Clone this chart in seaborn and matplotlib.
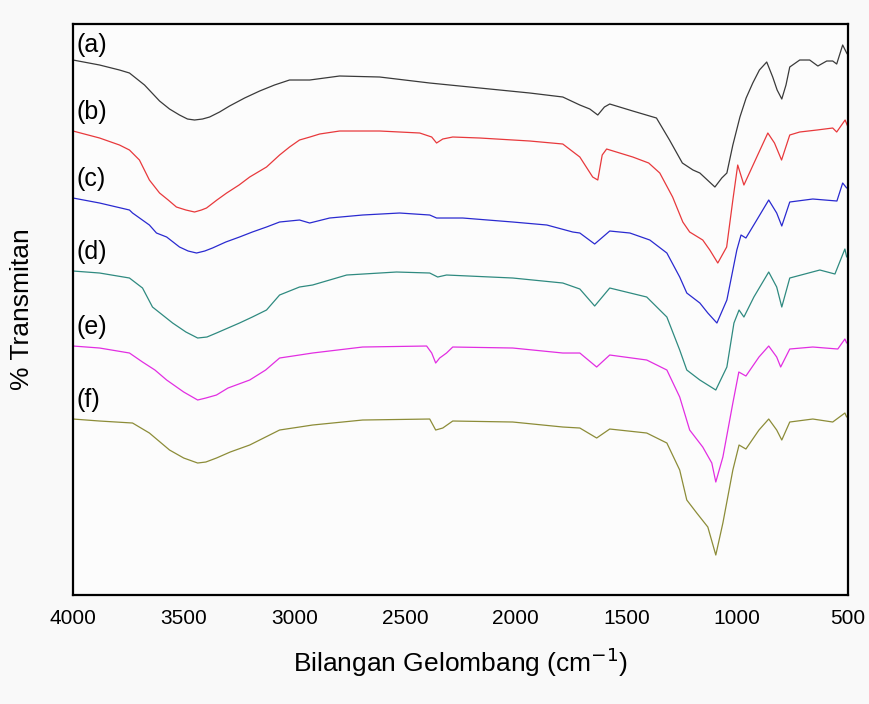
import matplotlib
matplotlib.use('Agg')
import matplotlib.pyplot as plt
import seaborn as sns
import pandas as pd
import numpy as np

# nilai (satuan transmitan relatif, sudah bergeser per sampel)
wn_a = [4000, 3880, 3790, 3745, 3677, 3609, 3564, 3519, 3483, 3451, 3415, 3383, 3338, 3293, 3225,
        3157, 3090, 3022, 2931, 2796, 2615, 2389, 2163, 1937, 1788, 1711, 1666, 1630, 1600, 1576,
        1472, 1365, 1306, 1248, 1200, 1169, 1135, 1101, 1070, 1047, 1020, 988, 960, 930, 900,
        867, 840, 820, 799, 780, 763, 718, 673, 636, 596, 569, 551, 524, 506, 500]
t_a = [535, 530, 525, 522, 510, 494, 486, 480, 476, 475, 476, 478, 483, 489, 497,
       504, 510, 515, 515, 519, 518, 512, 507, 502, 498, 490, 486, 480, 488, 491,
       484, 477, 455, 432, 425, 422, 415, 408, 417, 422, 450, 478, 497, 512, 525,
       533, 518, 505, 496, 510, 528, 535, 535, 529, 534, 534, 531, 550, 542, 540]

wn_b = [4000, 3880, 3790, 3745, 3700, 3655, 3609, 3570, 3533, 3490, 3451, 3420, 3397, 3350, 3306,
        3250, 3202, 3126, 3067, 3022, 2977, 2930, 2886, 2796, 2615, 2434, 2380, 2358, 2330, 2285,
        2163, 1937, 1788, 1711, 1653, 1630, 1610, 1590, 1472, 1400, 1350, 1292, 1246, 1215, 1156,
        1124, 1088, 1048, 1020, 998, 970, 912, 862, 832, 800, 763, 718, 640, 569, 551,
        513, 500]
t_b = [464, 457, 450, 445, 435, 415, 402, 395, 388, 385, 383, 385, 387, 395, 402,
       410, 418, 428, 440, 448, 455, 458, 461, 464, 464, 462, 458, 452, 456, 458,
       457, 454, 451, 438, 418, 415, 440, 446, 438, 432, 422, 398, 373, 363, 355,
       345, 332, 348, 395, 430, 410, 438, 462, 452, 435, 460, 463, 465, 467, 463,
       475, 468]

wn_c = [4000, 3880, 3745, 3731, 3655, 3623, 3577, 3519, 3480, 3442, 3405, 3370, 3310, 3248, 3190,
        3126, 3067, 2977, 2931, 2841, 2692, 2525, 2389, 2358, 2240, 2014, 1860, 1743, 1711, 1644,
        1576, 1485, 1395, 1318, 1260, 1228, 1169, 1133, 1092, 1047, 1002, 983, 961, 912, 858,
        822, 799, 763, 659, 550, 524, 506]
t_c = [397, 392, 385, 382, 370, 362, 358, 348, 344, 342, 344, 347, 353, 358, 363,
       368, 373, 375, 372, 377, 380, 382, 380, 377, 377, 373, 370, 363, 362, 351,
       364, 362, 355, 342, 318, 302, 292, 282, 272, 295, 345, 360, 357, 375, 395,
       382, 369, 393, 396, 394, 412, 407]

wn_d = [4000, 3880, 3745, 3686, 3641, 3550, 3490, 3437, 3395, 3352, 3300, 3248, 3190, 3126, 3067,
        2977, 2918, 2764, 2539, 2389, 2353, 2313, 2014, 1788, 1711, 1644, 1576, 1409, 1318, 1260,
        1228, 1169, 1097, 1047, 1015, 992, 970, 925, 858, 822, 799, 763, 627, 559, 514,
        506]
t_d = [324, 322, 317, 307, 288, 272, 263, 257, 258, 262, 267, 272, 278, 285, 300,
       308, 310, 320, 323, 322, 318, 320, 317, 312, 306, 289, 307, 298, 278, 245,
       225, 215, 205, 228, 272, 285, 278, 298, 323, 308, 288, 317, 325, 321, 346,
       338]

wn_e = [4000, 3880, 3745, 3686, 3630, 3577, 3500, 3437, 3400, 3352, 3300, 3202, 3130, 3067, 2977,
        2918, 2692, 2403, 2380, 2362, 2344, 2313, 2285, 2014, 1788, 1711, 1635, 1576, 1409, 1318,
        1260, 1215, 1156, 1115, 1097, 1065, 1020, 993, 961, 902, 858, 822, 804, 763, 659,
        546, 514, 506]
t_e = [249, 247, 242, 233, 225, 215, 203, 195, 197, 200, 207, 215, 225, 237, 240,
       242, 248, 249, 242, 232, 237, 242, 248, 247, 242, 242, 228, 240, 235, 225,
       198, 165, 148, 132, 113, 138, 192, 223, 219, 238, 249, 238, 228, 246, 248,
       246, 256, 252]

wn_f = [4000, 3880, 3731, 3655, 3564, 3500, 3437, 3400, 3352, 3290, 3202, 3130, 3067, 2977, 2918,
        2692, 2389, 2362, 2330, 2285, 2014, 1788, 1711, 1635, 1576, 1409, 1318, 1260, 1228, 1183,
        1133, 1097, 1065, 1020, 992, 961, 902, 858, 822, 799, 763, 659, 569, 514, 506]
t_f = [176, 174, 172, 162, 145, 137, 132, 133, 137, 143, 150, 158, 165, 168, 170,
       175, 176, 165, 167, 174, 173, 168, 167, 157, 166, 162, 152, 125, 95, 82,
       68, 40, 72, 125, 150, 146, 165, 176, 165, 155, 173, 176, 173, 182, 178]

labels = ['(a)', '(b)', '(c)', '(d)', '(e)', '(f)']
colors = ['#3a3a3a', '#e8393c', '#2a2ad0', '#2f8a80', '#e22ee2', '#8c8c38']

frames = []
for lab, wn, t in zip(labels, [wn_a, wn_b, wn_c, wn_d, wn_e, wn_f],
                      [t_a, t_b, t_c, t_d, t_e, t_f]):
    frames.append(pd.DataFrame({'wn': wn, 't': t, 'sampel': lab}))
df = pd.concat(frames, ignore_index=True)

sns.set_style('white')
plt.rcParams['font.family'] = ['Liberation Sans', 'DejaVu Sans']

fig = plt.figure(figsize=(8.7, 7.04), dpi=100, facecolor='#f9f9f9')
ax = fig.add_axes([0.0839, 0.1548, 0.8908, 0.8111])
ax.set_facecolor('#fcfcfc')

sns.lineplot(data=df, x='wn', y='t', hue='sampel', palette=dict(zip(labels, colors)),
             estimator=None, sort=True, linewidth=0.9, legend=False, ax=ax)

# label tiap kurva
label_y = [550, 483, 416, 343, 268, 195]
for lab, y in zip(labels, label_y):
    ax.text(3985, y, lab, fontsize=18, ha='left', va='center', color='black')

ax.set_xlim(4000, 500)
ax.set_ylim(0, 571)
ax.set_xticks([4000, 3500, 3000, 2500, 2000, 1500, 1000, 500])
ax.set_yticks([])
ax.tick_params(axis='x', length=0, labelsize=15, pad=10, labelcolor='black')
for s in ax.spines.values():
    s.set_linewidth(1.6)
    s.set_color('black')

ax.set_xlabel('Bilangan Gelombang (cm$^{-1}$)', fontsize=19, labelpad=13, color='black')
ax.set_ylabel('% Transmitan', fontsize=19, labelpad=28, color='black')

fig.savefig('out.png', dpi=100, facecolor=fig.get_facecolor())
